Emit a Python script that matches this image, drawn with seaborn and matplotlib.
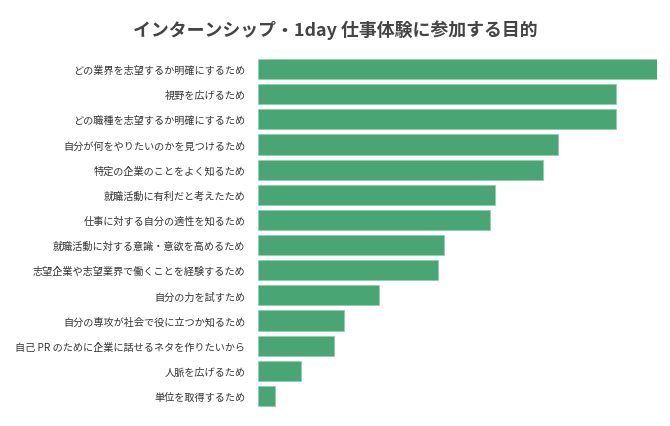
import matplotlib
matplotlib.use("Agg")
import matplotlib.pyplot as plt
import pandas as pd
import seaborn as sns

# data (arbitrary units)
labels = [
    "どの業界を志望するか明確にするため",
    "視野を広げるため",
    "どの職種を志望するか明確にするため",
    "自分が何をやりたいのかを見つけるため",
    "特定の企業のことをよく知るため",
    "就職活動に有利だと考えたため",
    "仕事に対する自分の適性を知るため",
    "就職活動に対する意識・意欲を高めるため",
    "志望企業や志望業界で働くことを経験するため",
    "自分の力を試すため",
    "自分の専攻が社会で役に立つか知るため",
    "自己 PR のために企業に話せるネタを作りたいから",
    "人脈を広げるため",
    "単位を取得するため",
]
values = [60.0, 53.8, 53.8, 45.1, 42.9, 35.6, 34.9, 28.0, 27.1, 18.2, 12.9, 11.4, 6.5, 2.6]

df = pd.DataFrame({"label": labels, "value": values})

sns.set_style("white")
plt.rcParams['font.family'] = ['Noto Sans CJK JP', 'DejaVu Sans']

fig = plt.figure(figsize=(6.7, 4.27), dpi=100)
ax = fig.add_axes([0.385, 0.0407, 0.5956, 0.8249])

sns.barplot(data=df, x="value", y="label", color="#4aa574", saturation=1,
            width=0.8, edgecolor="#8fcfae", linewidth=0.6, ax=ax)

ax.set_xlim(0, 60)
ax.set_ylim(13.5, -0.5)
ax.set_xlabel("")
ax.set_ylabel("")
ax.set_xticks([])
ax.tick_params(axis="y", length=0, pad=9, labelsize=7.3, labelcolor="#333333")
sns.despine(ax=ax, left=True, bottom=True)

fig.text(0.5, 0.93, "インターンシップ・1day 仕事体験に参加する目的",
         ha="center", va="center", fontsize=12.9, fontweight="bold", color="#444444")

fig.savefig("out.png", dpi=100)
